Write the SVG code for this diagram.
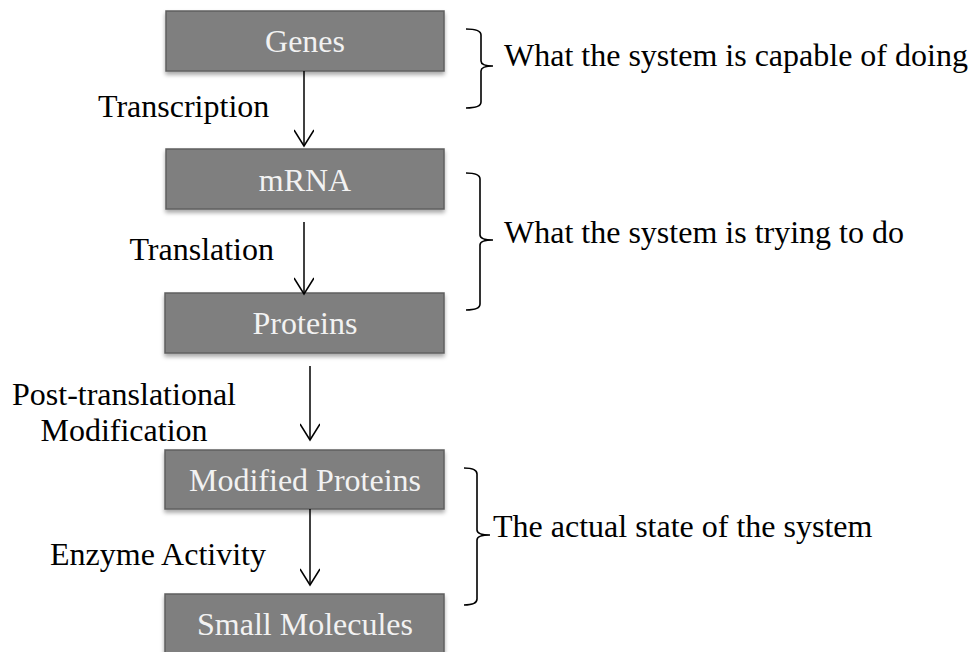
<svg xmlns="http://www.w3.org/2000/svg" width="972" height="652" viewBox="0 0 972 652">
<style>
.box{fill:#7f7f7f;stroke:#5f5f5f;stroke-width:1.5;filter:url(#sh)}
.bt{font-family:"Liberation Serif","Times New Roman",serif;font-size:32px;fill:#f2f2f2;text-anchor:middle}
.lb{font-family:"Liberation Serif","Times New Roman",serif;font-size:32px;fill:#000}
.ln{stroke:#000;stroke-width:1.5;fill:none}
.br{stroke:#000;stroke-width:1.6;fill:none}
</style>
<defs>
<filter id="sh" x="-10%" y="-20%" width="120%" height="150%">
<feDropShadow dx="0" dy="3" stdDeviation="2" flood-color="#000" flood-opacity="0.35"/>
</filter>
<marker id="ah" viewBox="0 0 20 20" refX="18" refY="10" markerWidth="20" markerHeight="20" markerUnits="userSpaceOnUse" orient="auto">
<path d="M2,0 L18,10 L2,20" fill="none" stroke="#000" stroke-width="1.5"/>
</marker>
</defs>
<rect width="972" height="652" fill="#fff"/>
<g id="genes"><rect class="box" x="166" y="11" width="278" height="60"/><text class="bt" x="305" y="52">Genes</text></g>
<g id="mrna"><rect class="box" x="166" y="149" width="278" height="60"/><text class="bt" x="305" y="191">mRNA</text></g>
<g id="proteins"><rect class="box" x="165" y="293" width="279" height="60"/><text class="bt" x="305" y="334">Proteins</text></g>
<g id="modified-proteins"><rect class="box" x="165" y="450" width="279" height="59"/><text class="bt" x="305" y="491">Modified Proteins</text></g>
<g id="small-molecules"><rect class="box" x="165" y="594" width="279" height="60"/><text class="bt" x="305" y="635">Small Molecules</text></g>
<g id="connectors">
<line class="ln" x1="304" y1="71" x2="304" y2="146" marker-end="url(#ah)"/>
<line class="ln" x1="304" y1="222" x2="304" y2="294" marker-end="url(#ah)"/>
<line class="ln" x1="310" y1="366" x2="310" y2="440" marker-end="url(#ah)"/>
<line class="ln" x1="310" y1="509" x2="310" y2="585" marker-end="url(#ah)"/>
</g>
<g id="labels">
<text class="lb" x="98" y="117">Transcription</text>
<text class="lb" x="274" y="260" text-anchor="end">Translation</text>
<text class="lb" x="124" y="405" text-anchor="middle">Post-translational</text>
<text class="lb" x="124" y="441" text-anchor="middle">Modification</text>
<text class="lb" x="50" y="565">Enzyme Activity</text>
</g>
<g id="brackets">
<path class="br" d="M466,29 Q481,29 481,35 V61 Q481,66 493,66 Q481,66 481,71 V102 Q481,108 466,108"/>
<path class="br" d="M466,173 Q480,173 480,179 V235 Q480,240 493,240 Q480,240 480,245 V304 Q480,310 466,310"/>
<path class="br" d="M464,468 Q477,468 477,474 V530 Q477,535 490,535 Q477,535 477,540 V599 Q477,605 464,605"/>
<text class="lb" x="504" y="66">What the system is capable of doing</text>
<text class="lb" x="504" y="243">What the system is trying to do</text>
<text class="lb" x="493" y="537">The actual state of the system</text>
</g>
</svg>
